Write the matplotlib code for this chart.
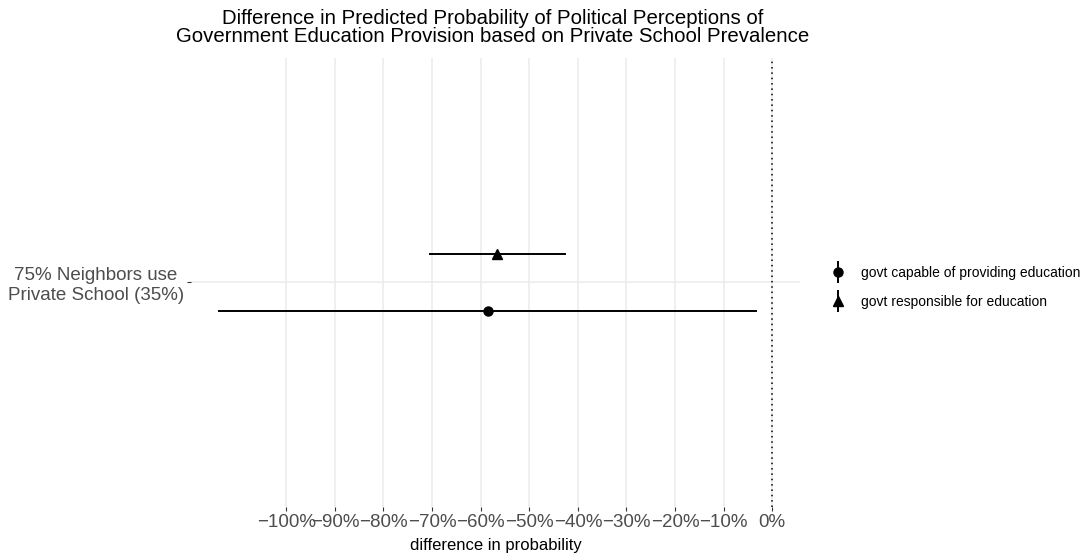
import matplotlib.pyplot as plt
from matplotlib.lines import Line2D
from matplotlib.ticker import FuncFormatter

plt.rcParams['font.family'] = ['Liberation Sans', 'DejaVu Sans']

# estimates and 95% intervals (difference in probability)
category = "75% Neighbors use\nPrivate School (35%)"
outcomes = ["govt capable of providing education", "govt responsible for education"]
estimate = [-0.584, -0.566]
lower = [-1.139, -0.704]
upper = [-0.033, -0.427]
markers = ["o", "^"]
dodge = [-0.075, 0.075]

fig = plt.figure(figsize=(10.84, 5.55), dpi=100)
ax = fig.add_axes([0.1762, 0.0865, 0.5618, 0.809])

for est, lo, hi, m, d in zip(estimate, lower, upper, markers, dodge):
    ax.plot([lo, hi], [1 + d, 1 + d], color="black", lw=1.4, zorder=3)
    ax.plot(est, 1 + d, marker=m, color="black", ms=6.5, ls="none", zorder=4)

ax.axvline(0, color="black", lw=1.1, ls=(0, (1, 2.5)), zorder=2)

ax.set_xlim(-1.196, 0.057)
ax.set_ylim(0.4, 1.6)
ax.set_xticks([x / 10 for x in range(-10, 1)])
ax.xaxis.set_major_formatter(FuncFormatter(lambda v, p: f"{round(v * 100):d}%".replace("-", "\u2212")))
ax.set_yticks([1])
ax.set_yticklabels([category], ha="right", multialignment="center")

ax.grid(True, color="#ebebeb", lw=1.1, zorder=0)
ax.set_axisbelow(True)
for s in ax.spines.values():
    s.set_visible(False)
ax.tick_params(axis="both", colors="#333333", length=3, width=0.8, labelsize=13.5,
               labelcolor="#4d4d4d", pad=2)

ax.set_xlabel("difference in probability", fontsize=12, labelpad=5)
fig.text(0.4545, 0.9505,
         "Difference in Predicted Probability of Political Perceptions of\n"
         "Government Education Provision based on Private School Prevalence",
         fontsize=14.7, ha="center", va="center", linespacing=0.98)

# legend: point with a vertical range line
handles = []
for m in markers:
    bar = Line2D([], [], marker="|", color="black", ms=16, mew=1.4, ls="none")
    pt = Line2D([], [], marker=m, color="black", ms=6.5, ls="none")
    handles.append((bar, pt))
fig.legend(handles, outcomes, loc="center left", bbox_to_anchor=(0.7535, 0.482),
           frameon=False, fontsize=10, handlelength=1.2, handletextpad=1.05,
           labelspacing=1.08)

fig.savefig("out.png", dpi=100)
